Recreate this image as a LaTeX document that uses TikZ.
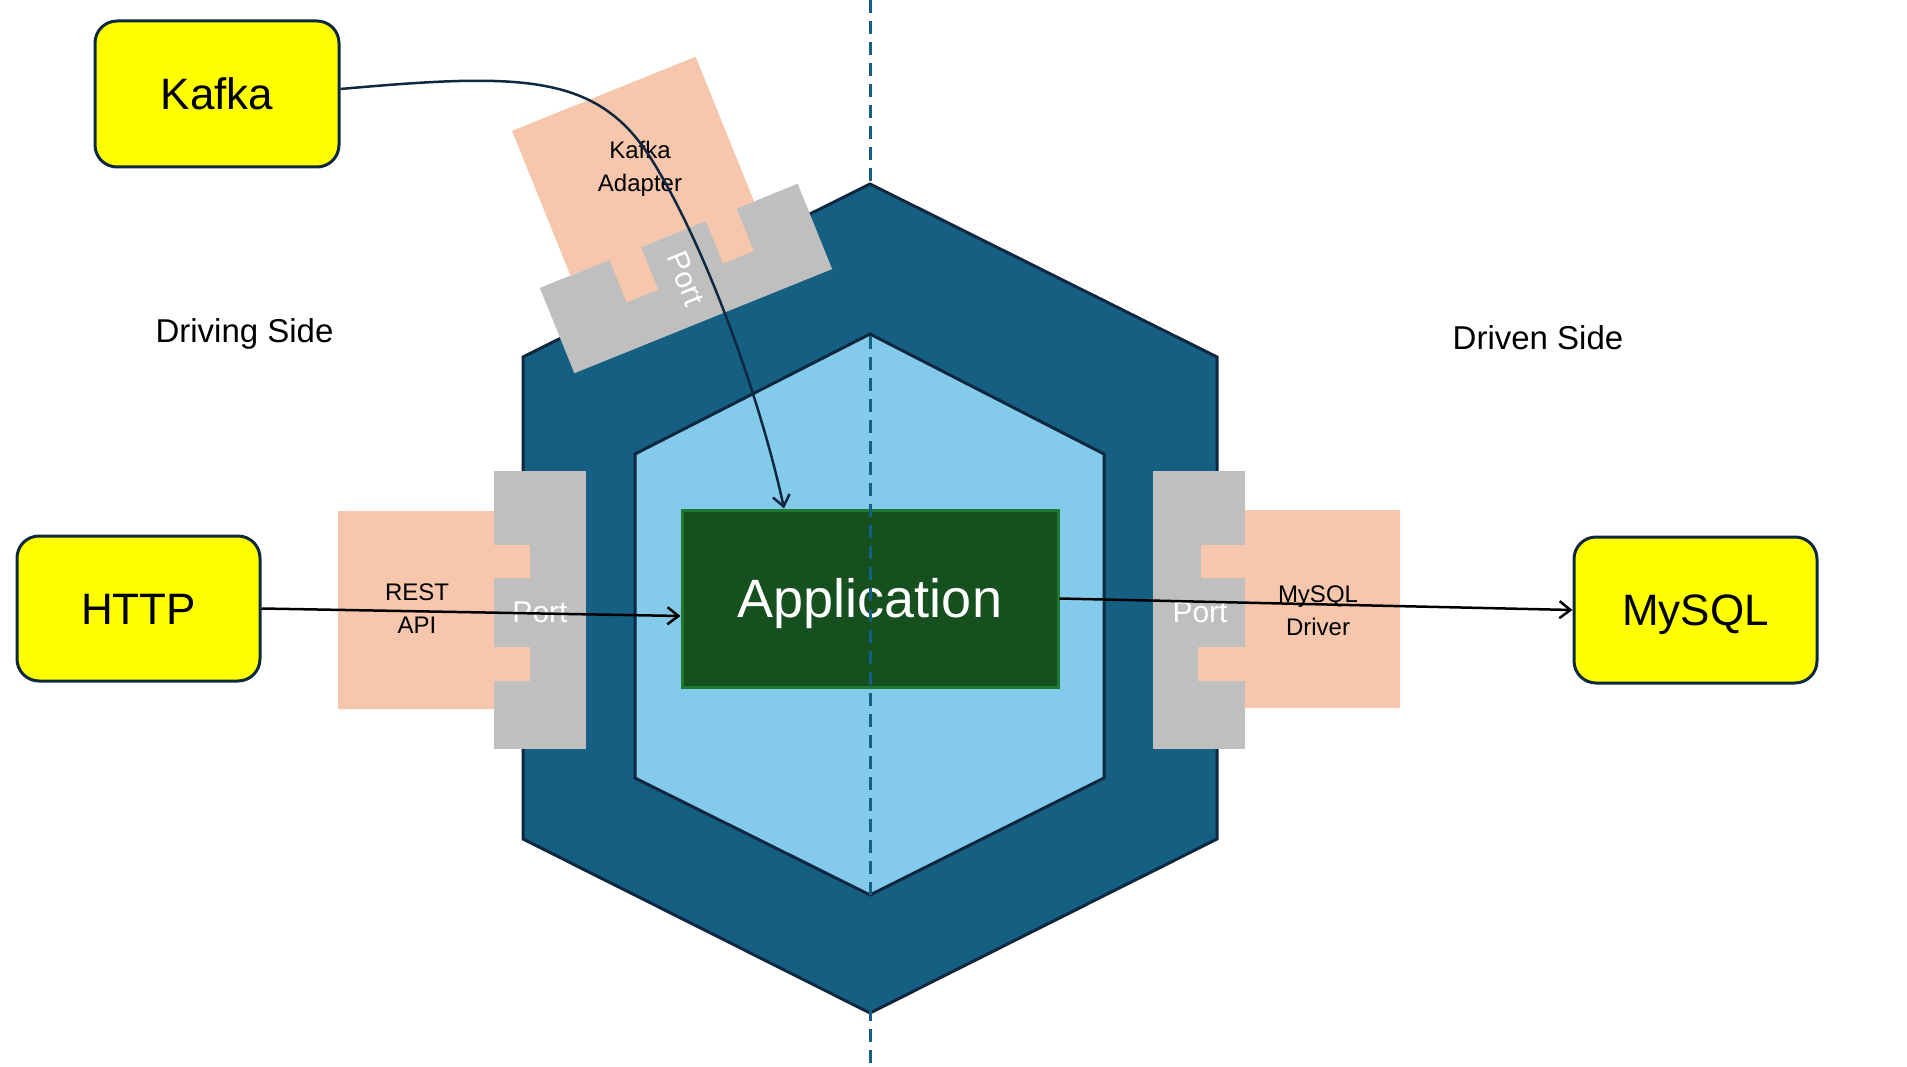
\documentclass[tikz,border=0pt]{standalone}
\usepackage{fontspec}
\setmainfont{Liberation Sans}
\usetikzlibrary{arrows.meta}
\definecolor{hexouter}{HTML}{156082}
\definecolor{hexinner}{HTML}{83CAEB}
\definecolor{navy}{HTML}{0E2841}
\definecolor{peach}{HTML}{F6C6AD}
\definecolor{portgray}{HTML}{BFBFBF}
\definecolor{appgreen}{HTML}{15501E}
\definecolor{appborder}{HTML}{1D7A30}
\definecolor{extyellow}{RGB}{255,255,0}
\begin{document}
\begin{tikzpicture}[x=1pt,y=-1pt,
  hexo/.style={fill=hexouter, draw=navy, line width=3pt},
  hexi/.style={fill=hexinner, draw=navy, line width=3pt},
  portbox/.style={fill=portgray},
  adapter/.style={fill=peach},
  porttext/.style={text=white, font=\fontsize{30}{36}\selectfont, inner sep=0pt},
  adtext/.style={text=black, font=\fontsize{24}{33}\selectfont, align=center, inner sep=0pt},
  ext/.style={fill=extyellow, draw=navy, line width=3pt, rounded corners=22pt,
    font=\fontsize{44}{52}\selectfont, inner sep=0pt, text height=31pt, text depth=0pt},
  appbox/.style={fill=appgreen, draw=appborder, line width=3pt, text=white,
    font=\fontsize{54}{62}\selectfont, inner sep=0pt, text height=38pt, text depth=0pt},
  sidetext/.style={font=\fontsize{33}{39}\selectfont, inner sep=0pt, anchor=base},
  conn/.style={line width=2.5pt, -{Straight Barb[length=11pt,width=17pt]}},
  dashline/.style={draw=hexouter, line width=3pt, dash pattern=on 13pt off 8pt}
]
\useasboundingbox (0,0) rectangle (1907,1067);

% hexagons
\path[hexo] (870,184) -- (1217,357) -- (1217,839) -- (870,1013) -- (523,839) -- (523,357) -- cycle;
\path[hexi] (870,334) -- (1104,454) -- (1104,778) -- (870,895) -- (635,778) -- (635,454) -- cycle;

% left port + REST adapter
\fill[portbox] (494,471) rectangle (586,749);
\fill[adapter] (338,511) -- (494,511) -- (494,545) -- (530,545) -- (530,578) -- (494,578)
  -- (494,647) -- (530,647) -- (530,681) -- (494,681) -- (494,709) -- (338,709) -- cycle;

% right port + MySQL driver
\fill[portbox] (1153,471) rectangle (1245,749);
\fill[adapter] (1400,510) -- (1245,510) -- (1245,545) -- (1201,545) -- (1201,578) -- (1245,578)
  -- (1245,647) -- (1198,647) -- (1198,681) -- (1245,681) -- (1245,708) -- (1400,708) -- cycle;

% Kafka port + adapter (rotated)
\begin{scope}[shift={(686,278.5)}, rotate=-68]
  \fill[portbox] (-46,-139) rectangle (46,139);
  \fill[adapter] (-202,-92) -- (-46,-92) -- (-46,-73) -- (0,-73) -- (0,-40) -- (-46,-40)
    -- (-46,30) -- (0,30) -- (0,64) -- (-46,64) -- (-46,106) -- (-202,106) -- cycle;
  \node[porttext, rotate=-68] (kport) at (0,0) {Port};
\end{scope}

% labels on adapters and ports
\node[adtext] (rest) at (417,609) {REST\\API};
\node[adtext] (mysqldrv) at (1318,611) {MySQL\\Driver};
\node[adtext] (kad) at (640,169) {Kafka\\Adapter};
\node[porttext, anchor=base] (lport) at (540,622) {Port};
\node[porttext, anchor=base] (rport) at (1200,622) {Port};

% application
\node[appbox, minimum width=376pt, minimum height=177pt] (app) at (870,598.5) {Application};

% dashed divider
\coordinate (dtop) at (870,0);
\coordinate (dbot) at (870,1067);
\draw[dashline] (dtop) -- (dbot);

% side labels
\node[sidetext] (driving) at (244.5,343) {Driving Side};
\node[sidetext] (driven) at (1538,350) {Driven Side};

% external systems
\node[ext, minimum width=244pt, minimum height=146pt] (kafka) at (217,94) {Kafka};
\node[ext, minimum width=243pt, minimum height=145pt] (http) at (138.5,608.5) {HTTP};
\node[ext, minimum width=243pt, minimum height=146pt] (mysql) at (1695.5,610) {MySQL};

% connectors
\draw[conn, draw=navy] ([yshift=5pt]kafka.east) .. controls (520,73) and (596,73) .. (650,157)
  .. controls (709,250) and (763,410) .. ([xshift=-86pt]app.north);
\draw[conn] (http.east) -- ([yshift=-17.5pt]app.west);
\draw[conn] (app.east) -- (mysql.west);
\end{tikzpicture}
\end{document}
